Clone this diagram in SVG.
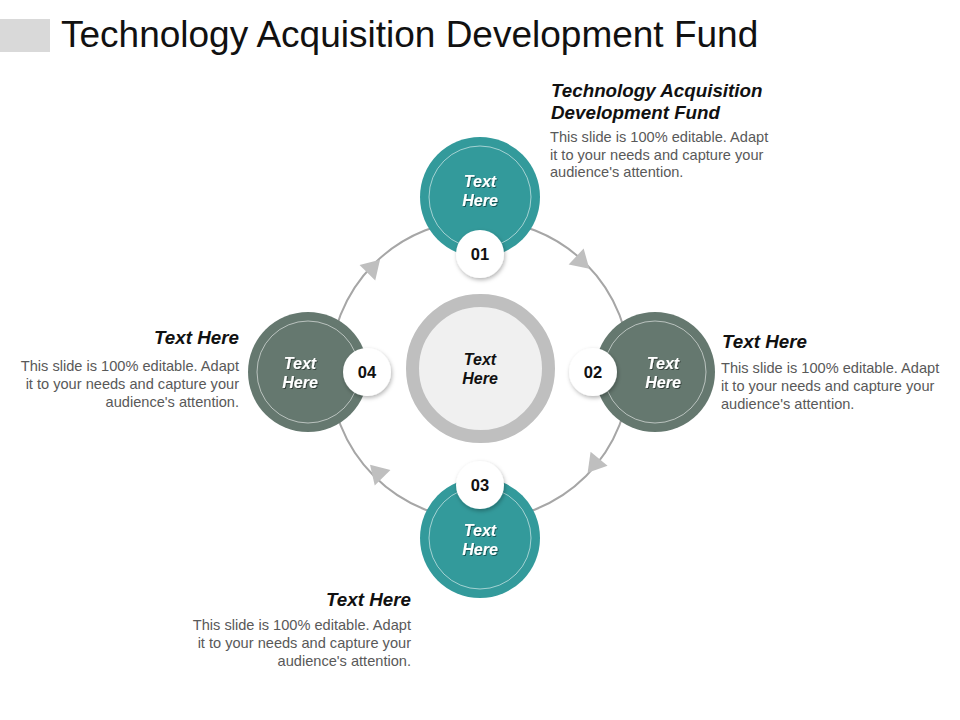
<svg xmlns="http://www.w3.org/2000/svg" width="960" height="720" viewBox="0 0 960 720">
<defs>
<style>
.title{font-family:"Liberation Sans",Arial,sans-serif;font-size:37px;fill:#111}
.head{font-family:"Liberation Sans",Arial,sans-serif;font-size:18.8px;font-weight:bold;font-style:italic;fill:#111}
.body{font-family:"Liberation Sans",Arial,sans-serif;font-size:14.6px;fill:#595959}
.ntext{font-family:"Liberation Sans",Arial,sans-serif;font-size:16px;font-weight:bold;font-style:italic;fill:#fff;text-anchor:middle}
.ctext{font-family:"Liberation Sans",Arial,sans-serif;font-size:16px;font-weight:bold;font-style:italic;fill:#111;text-anchor:middle}
.num{font-family:"Liberation Sans",Arial,sans-serif;font-size:16.5px;font-weight:bold;fill:#111;text-anchor:middle}
.teal{fill:#339a9b}
.sage{fill:#65786f}
.inner{fill:none;stroke:#ffffff;stroke-opacity:0.55;stroke-width:1}
.badge{fill:#fff;filter:url(#sh)}
.arrow{fill:#bfbfbf}
</style>
<filter id="sh" x="-40%" y="-40%" width="180%" height="180%">
<feDropShadow dx="1" dy="2" stdDeviation="2" flood-color="#000" flood-opacity="0.3"/>
</filter>
<filter id="tsh" x="-20%" y="-20%" width="140%" height="140%">
<feDropShadow dx="1" dy="1" stdDeviation="0.6" flood-color="#000" flood-opacity="0.45"/>
</filter>
<polygon id="ah" points="10,0 -8,-11 -8,11"/>
</defs>

<rect x="0" y="19" width="50" height="33" fill="#d9d9d9"/>
<text class="title" x="61" y="47">Technology Acquisition Development Fund</text>

<g id="connectors">
<circle cx="480" cy="370" r="150" fill="none" stroke="#a6a6a6" stroke-width="2"/>
<use href="#ah" class="arrow" transform="translate(582,262) rotate(43)"/>
<use href="#ah" class="arrow" transform="translate(594,465) rotate(129.5)"/>
<use href="#ah" class="arrow" transform="translate(377,472) rotate(225.6)"/>
<use href="#ah" class="arrow" transform="translate(373,267) rotate(-45.5)"/>
</g>

<g id="center">
<circle cx="480.5" cy="368.5" r="68" fill="#f0f0f0" stroke="#bfbfbf" stroke-width="13"/>
<text class="ctext" x="480" y="365">Text</text>
<text class="ctext" x="480" y="384">Here</text>
</g>

<g id="node1">
<circle class="teal" cx="480" cy="197" r="60"/>
<circle class="inner" cx="480" cy="197" r="51"/>
<text class="ntext" filter="url(#tsh)" x="480" y="187">Text</text>
<text class="ntext" filter="url(#tsh)" x="480" y="206">Here</text>
<circle class="badge" cx="480" cy="254" r="24"/>
<text class="num" x="480" y="260">01</text>
</g>

<g id="node2">
<circle class="sage" cx="655" cy="372" r="60"/>
<circle class="inner" cx="655" cy="372" r="51"/>
<text class="ntext" filter="url(#tsh)" x="663" y="369">Text</text>
<text class="ntext" filter="url(#tsh)" x="663" y="388">Here</text>
<circle class="badge" cx="593" cy="372" r="24"/>
<text class="num" x="593" y="378">02</text>
</g>

<g id="node3">
<circle class="teal" cx="480" cy="538" r="60"/>
<circle class="inner" cx="480" cy="538" r="51"/>
<text class="ntext" filter="url(#tsh)" x="480" y="536">Text</text>
<text class="ntext" filter="url(#tsh)" x="480" y="555">Here</text>
<circle class="badge" cx="480" cy="485" r="24"/>
<text class="num" x="480" y="491">03</text>
</g>

<g id="node4">
<circle class="sage" cx="308" cy="372" r="60"/>
<circle class="inner" cx="308" cy="372" r="51"/>
<text class="ntext" filter="url(#tsh)" x="300" y="369">Text</text>
<text class="ntext" filter="url(#tsh)" x="300" y="388">Here</text>
<circle class="badge" cx="367" cy="372" r="24"/>
<text class="num" x="367" y="378">04</text>
</g>

<g id="label1">
<text class="head" x="551" y="97">Technology Acquisition</text>
<text class="head" x="551" y="119">Development Fund</text>
<text class="body" x="550" y="142">This slide is 100% editable. Adapt</text>
<text class="body" x="550" y="160">it to your needs and capture your</text>
<text class="body" x="550" y="177">audience's attention.</text>
</g>

<g id="label2">
<text class="head" x="722" y="348">Text Here</text>
<text class="body" x="721" y="373">This slide is 100% editable. Adapt</text>
<text class="body" x="721" y="391">it to your needs and capture your</text>
<text class="body" x="721" y="409">audience's attention.</text>
</g>

<g id="label4" text-anchor="end">
<text class="head" x="239" y="344">Text Here</text>
<text class="body" x="239" y="371">This slide is 100% editable. Adapt</text>
<text class="body" x="239" y="389">it to your needs and capture your</text>
<text class="body" x="239" y="407">audience's attention.</text>
</g>

<g id="label3" text-anchor="end">
<text class="head" x="411" y="606">Text Here</text>
<text class="body" x="411" y="630">This slide is 100% editable. Adapt</text>
<text class="body" x="411" y="648">it to your needs and capture your</text>
<text class="body" x="411" y="666">audience's attention.</text>
</g>
</svg>
